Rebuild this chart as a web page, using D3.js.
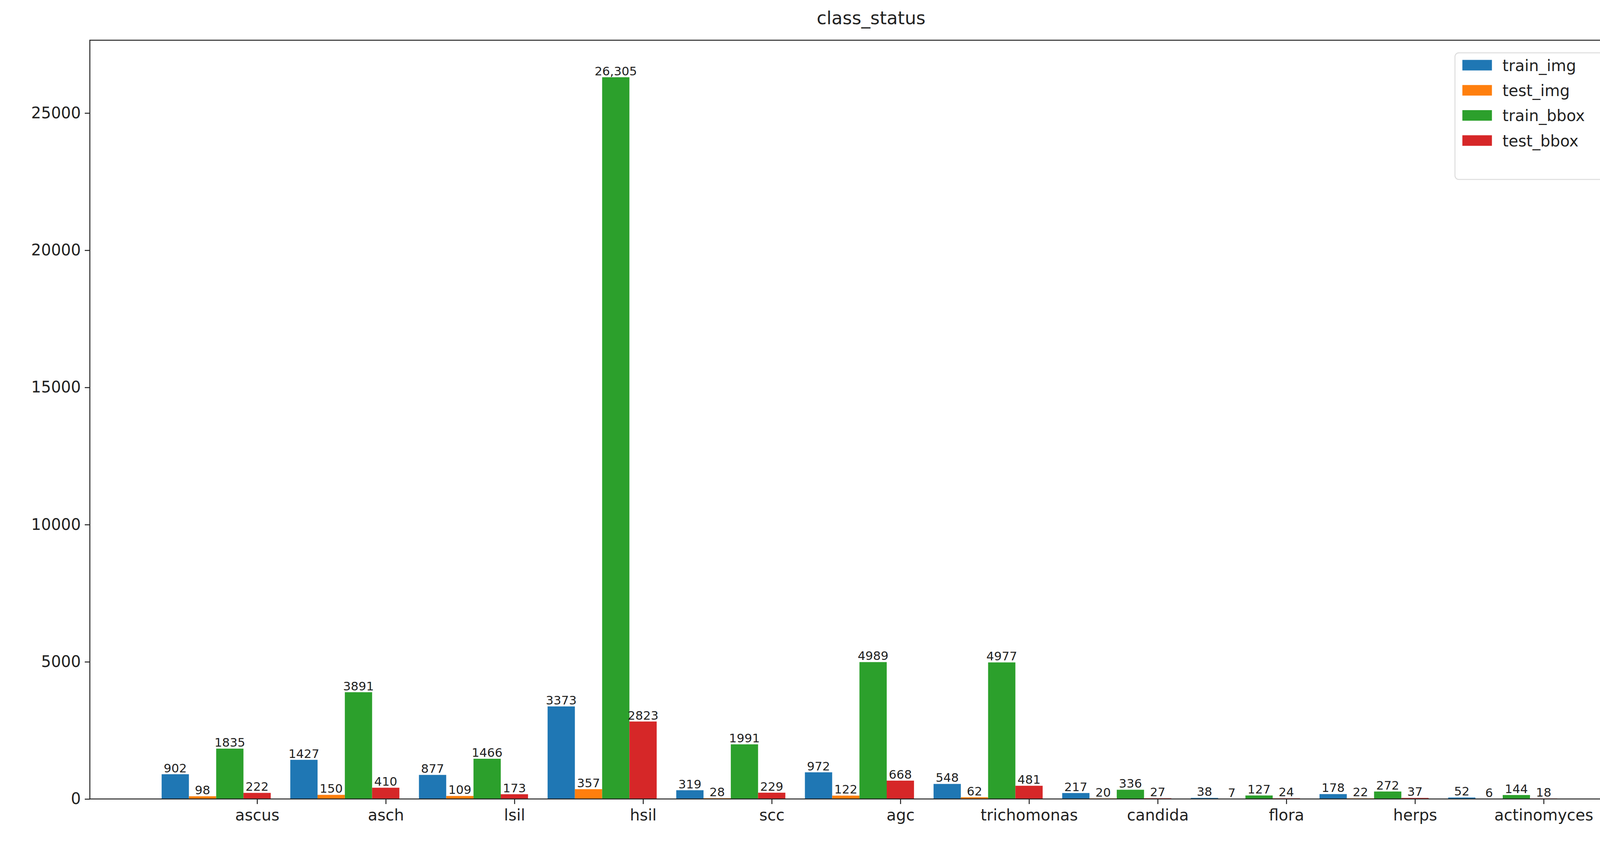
<!DOCTYPE html><html><head><meta charset="utf-8"><script src="https://cdn.jsdelivr.net/npm/d3@7"></script>
<style>body{margin:0;background:#fff}text{font-family:"DejaVu Sans",sans-serif}</style></head><body><svg id="c" width="4238" height="2169"></svg><script>
const categories=["ascus","asch","lsil","hsil","scc","agc","trichomonas","candida","flora","herps","actinomyces"];
const seriesNames=["train_img","test_img","train_bbox","test_bbox"];
const colors=["#1f77b4","#ff7f0e","#2ca02c","#d62728"];
const train_img=[902,1427,877,3373,319,972,548,217,38,178,52];
const test_img=[98,150,109,357,28,122,62,20,7,22,6];
const train_bbox=[1835,3891,1466,26305,1991,4989,4977,336,127,272,144];
const test_bbox=[222,410,173,2823,229,668,481,27,24,37,18];
const yTicks=[0,5000,10000,15000,20000,25000];
const series=[train_img,test_img,train_bbox,test_bbox];
const L=230,R=4230,T=103,B=2046,S=2.703;
const svg=d3.select("#c");
const x=d3.scaleLinear().domain([-1.3,10.845]).range([L,R]);
const y=d3.scaleLinear().domain([0,27654]).range([B,T]);
const w=0.212;
const g=svg.append("g");
series.forEach((vals,s)=>{
  vals.forEach((v,i)=>{
    const cx=i-(3-s)*w;
    g.append("rect").attr("x",x(cx-w/2)).attr("width",x(cx+w/2)-x(cx-w/2)).attr("y",y(v)).attr("height",B-y(v)).attr("fill",colors[s]);
    g.append("text").attr("x",x(cx)).attr("y",y(v)-5).attr("text-anchor","middle").attr("font-size",31).attr("fill","#222").text(v>=10000?d3.format(",")(v):v);
  });
});
const ya=svg.append("g").attr("transform",`translate(${L},0)`).call(d3.axisLeft(y).tickValues(yTicks).tickFormat(d=>d).tickSize(13).tickPadding(10));
const xa=svg.append("g").attr("transform",`translate(0,${B})`).call(d3.axisBottom(x).tickValues(d3.range(categories.length)).tickFormat(i=>categories[i]).tickSize(13).tickPadding(14));
[ya,xa].forEach(a=>{a.select(".domain").remove();a.selectAll("text").attr("font-size",40).attr("fill","#222");a.selectAll("line").attr("stroke","#222").attr("stroke-width",2.5);});
svg.append("rect").attr("x",L).attr("y",T).attr("width",R-L).attr("height",B-T).attr("fill","none").attr("stroke","#222").attr("stroke-width",2.5);
svg.append("text").attr("x",(L+R)/2).attr("y",62).attr("text-anchor","middle").attr("font-size",46).attr("fill","#222").text("class_status");
const lg=svg.append("g");
lg.append("rect").attr("x",1378*S).attr("y",50*S).attr("width",172*S).attr("height",120*S).attr("rx",10).attr("fill","#fff").attr("stroke","#ddd").attr("stroke-width",2.5);
seriesNames.forEach((n,i)=>{
  const yy=(62+i*23.8)*S;
  lg.append("rect").attr("x",1385*S).attr("y",yy-10*S/2*1.05).attr("width",28*S).attr("height",10*S).attr("fill",colors[i]);
  lg.append("text").attr("x",1423*S).attr("y",yy+14).attr("font-size",40).attr("fill","#222").text(n);
});
</script></body></html>
